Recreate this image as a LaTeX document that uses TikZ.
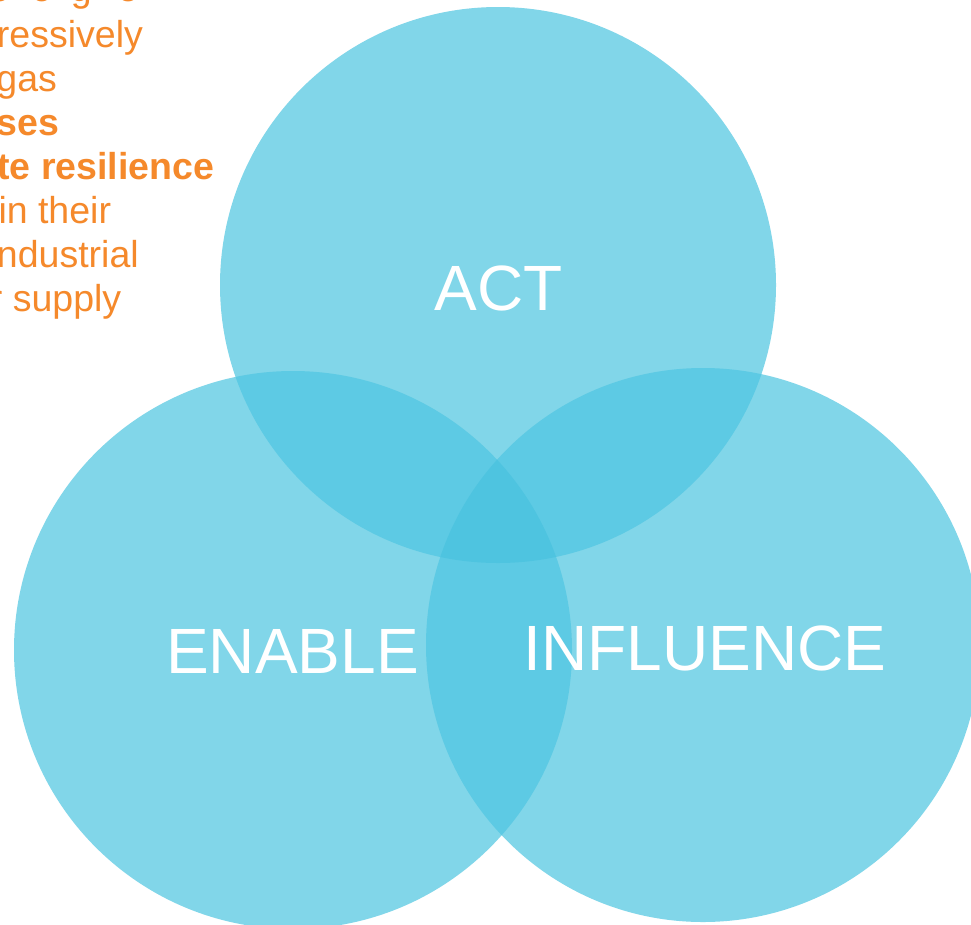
\documentclass[tikz,border=0pt]{standalone}
\usepackage{fontspec}
\setmainfont{Liberation Sans}
\definecolor{vsingle}{RGB}{129,214,233}
\definecolor{vdouble}{RGB}{93,202,228}
\definecolor{vtriple}{RGB}{78,196,224}
\definecolor{vorange}{RGB}{245,137,43}
\tikzset{
  orangetxt/.style={anchor=base west, inner sep=0pt, outer sep=0pt, text=vorange,
    font=\fontsize{37.5}{44}\selectfont},
  orangebold/.style={orangetxt, font=\fontsize{37.5}{44}\selectfont\bfseries},
  venntxt/.style={anchor=base, inner sep=0pt, outer sep=0pt, text=white,
    font=\fontsize{64}{70}\selectfont}
}
\begin{document}
\begin{tikzpicture}[x=1pt,y=-1pt]
\useasboundingbox (0,0) rectangle (971,924);
\fill[white] (0,0) rectangle (971,924);
% circles
\def\actpath{(498,285) circle[radius=278pt]}
\def\enapath{(293,650) circle[radius=279pt]}
\def\infpath{(703,645) circle[radius=277pt]}
\fill[vsingle] \actpath;
\fill[vsingle] \enapath;
\fill[vsingle] \infpath;
\begin{scope}
  \clip \actpath;
  \fill[vdouble] \enapath;
  \fill[vdouble] \infpath;
\end{scope}
\begin{scope}
  \clip \enapath;
  \fill[vdouble] \infpath;
\end{scope}
\begin{scope}
  \clip \actpath;
  \clip \enapath;
  \fill[vtriple] \infpath;
\end{scope}
% labels
\node[venntxt] (act) at (498.5,310) {ACT};
\node[venntxt] (enable) at (292.5,673) {ENABLE};
\node[venntxt] (influence) at (705,670) {INFLUENCE};
% cropped orange text
\node[orangetxt] (l0) at (-11.5,1.5) {\rlap{e}\hspace*{43pt}\rlap{o}\hspace*{39.5pt}\rlap{g}\hspace*{46.5pt}e};
\node[orangetxt] (l1) at (-3,47) {ressively};
\node[orangetxt] (l2) at (-3.5,91) {gas};
\node[orangebold] (l3) at (-3.5,135) {ses};
\node[orangebold] (l4) at (-2.5,179) {te resilience};
\node[orangetxt] (l5) at (-1.5,223) {in their};
\node[orangetxt] (l6) at (-3,267) {ndustrial};
\node[orangetxt] (l7) at (-10,311) {r supply};
\end{tikzpicture}
\end{document}
